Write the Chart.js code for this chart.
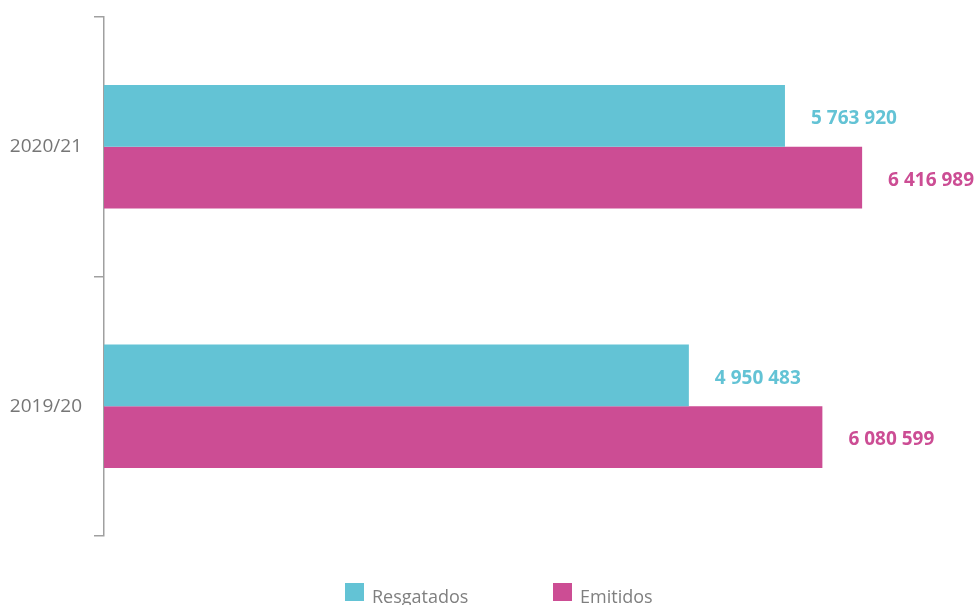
<!DOCTYPE html>
<html>
<head>
<meta charset="utf-8">
<script src="https://cdn.jsdelivr.net/npm/chart.js@4"></script>
<style>
  html, body { margin: 0; padding: 0; background: #fff; }
  #wrap { position: relative; width: 975px; height: 605px; overflow: hidden; }
  #legend { position: absolute; left: 345px; top: 583px; display: flex; font-family: "Open Sans", sans-serif; font-size: 18px; color: #7f7f7f; }
  #legend .item { display: flex; align-items: flex-start; width: 208px; }
  #legend .box { width: 19px; height: 18px; margin-right: 8px; flex: none; }
  #legend .txt { line-height: 18px; margin-top: 4px; }
</style>
</head>
<body>
<div id="wrap">
  <canvas id="chart" width="975" height="605"></canvas>
  <div id="legend"></div>
</div>
<script>
const categories = ['2020/21', '2019/20'];
const seriesNames = ['Resgatados', 'Emitidos'];
const resgatados = [5763920, 4950483];
const emitidos = [6416989, 6080599];
const seriesColors = ['#63c3d5', '#cc4d94'];
const xMax = 7000000;

const fmt = v => String(v).replace(/\B(?=(\d{3})+(?!\d))/g, ' ');

const valueLabels = {
  id: 'valueLabels',
  afterDatasetsDraw(chart) {
    const ctx = chart.ctx;
    ctx.save();
    ctx.font = 'bold 19px "Open Sans", sans-serif';
    ctx.textBaseline = 'middle';
    ctx.textAlign = 'left';
    chart.data.datasets.forEach((ds, i) => {
      const meta = chart.getDatasetMeta(i);
      ctx.fillStyle = ds.backgroundColor;
      meta.data.forEach((bar, j) => {
        ctx.fillText(fmt(ds.data[j]), bar.x + 26, bar.y + 3);
      });
    });
    ctx.restore();
  }
};

const data = {
  labels: categories,
  datasets: [
    { label: seriesNames[0], data: resgatados, backgroundColor: seriesColors[0] },
    { label: seriesNames[1], data: emitidos, backgroundColor: seriesColors[1] }
  ]
};

const options = {
  indexAxis: 'y',
  responsive: false, animation: false,
  layout: { padding: { top: 17, bottom: 69, right: 44, left: 0 } },
  datasets: { bar: { categoryPercentage: 0.475, barPercentage: 1 } },
  plugins: { legend: { display: false }, tooltip: { enabled: false } },
  scales: {
    x: { display: false, min: 0, max: xMax },
    y: {
      afterFit: s => { s.width = 104; s.paddingTop = 0; s.paddingBottom = 0; },
      border: { display: true, color: '#a0a0a0', width: 1.5 },
      grid: { display: true, offset: true, drawOnChartArea: false, drawTicks: true, tickLength: 10, color: '#a0a0a0', lineWidth: 1.5 },
      ticks: { padding: 12, color: '#767676', font: { family: '"Open Sans", sans-serif', size: 19 } }
    }
  }
};

new Chart(document.getElementById('chart').getContext('2d'), { type: 'bar', data, options, plugins: [valueLabels] });

const legend = document.getElementById('legend');
seriesNames.forEach((name, i) => {
  const item = document.createElement('div');
  item.className = 'item';
  item.innerHTML = `<span class="box" style="background:${seriesColors[i]}"></span><span class="txt">${name}</span>`;
  legend.appendChild(item);
});
</script>
</body>
</html>
